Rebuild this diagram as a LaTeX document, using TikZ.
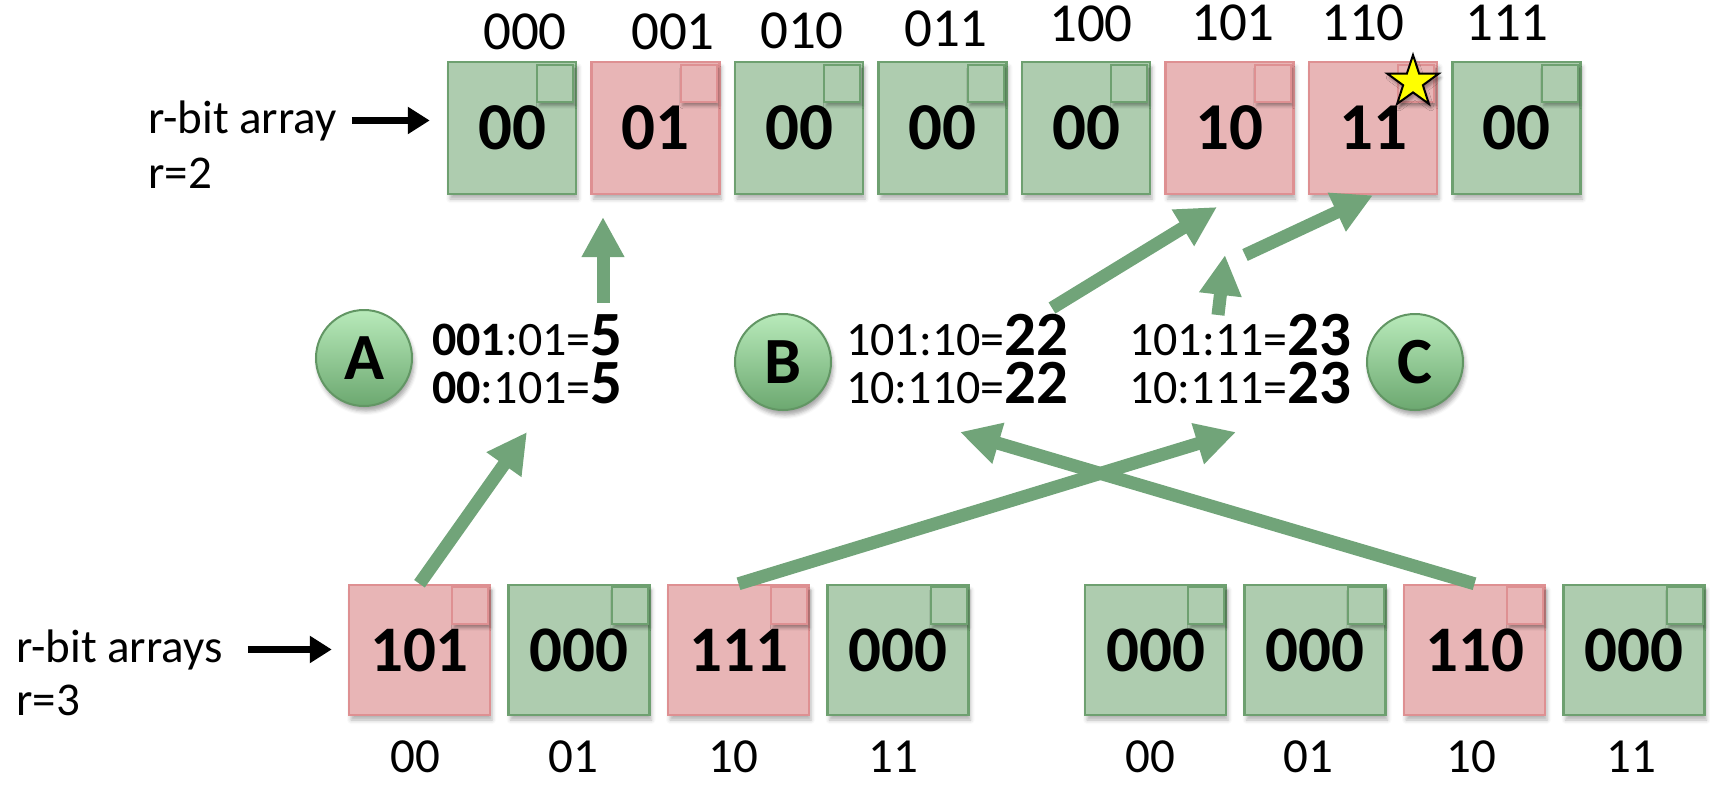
\documentclass[tikz,border=0pt]{standalone}
\usepackage{fontspec}
\setmainfont{Carlito}
\usetikzlibrary{arrows.meta,shapes.geometric,shadows.blur}

\definecolor{okfill}{RGB}{174,204,175}
\definecolor{okline}{RGB}{110,160,112}
\definecolor{hitfill}{RGB}{232,181,182}
\definecolor{hitline}{RGB}{222,144,146}
\definecolor{linkgreen}{RGB}{113,164,121}
\definecolor{balltop}{RGB}{184,234,186}
\definecolor{ballbottom}{RGB}{108,168,112}
\definecolor{ballline}{RGB}{98,150,100}
\definecolor{staryellow}{RGB}{255,255,0}

\newcommand\bignum[1]{{\fontsize{63}{63}\selectfont\bfseries #1}}

\tikzset{
  cell/.style={fill=#1fill, draw=#1line, line width=2.5pt, inner sep=0pt,
    blur shadow={shadow xshift=2pt, shadow yshift=-5pt, shadow blur radius=4pt, shadow opacity=30}},
  topcell/.style={cell=#1, minimum width=128pt, minimum height=132pt,
    font=\fontsize{67}{67}\selectfont\bfseries},
  botcell/.style={cell=#1, minimum width=141pt, minimum height=130pt,
    font=\fontsize{65}{65}\selectfont\bfseries},
  flag/.style={fill=#1fill, draw=#1line, line width=2pt, inner sep=0pt,
    minimum width=36pt, minimum height=37pt, anchor=north east,
    blur shadow={shadow xshift=2pt, shadow yshift=-4pt, shadow blur radius=3pt, shadow opacity=35}},
  idx/.style={inner sep=0pt, font=\fontsize{55}{55}\selectfont},
  botidx/.style={inner sep=0pt, font=\fontsize{49}{49}\selectfont},
  caption/.style={inner sep=0pt, anchor=base west, font=\fontsize{47}{47}\selectfont},
  eqline/.style={inner sep=0pt, anchor=base west, font=\fontsize{48}{48}\selectfont},
  ball/.style={circle, minimum size=96pt, inner sep=0pt, draw=ballline, line width=2pt,
    top color=balltop, bottom color=ballbottom,
    font=\fontsize{66}{66}\selectfont\bfseries,
    blur shadow={shadow xshift=2pt, shadow yshift=-5pt, shadow blur radius=4pt, shadow opacity=35}},
  link/.style={draw=linkgreen, line width=13pt, -{Triangle[length=40pt,width=40pt]}},
  pointer/.style={draw=black, line width=7pt, -{Triangle[length=22pt,width=26pt]}},
}

\begin{document}
\begin{tikzpicture}[x=1pt,y=-1pt]
\useasboundingbox (0,0) rectangle (1710,785);

% upper array, r=2
\foreach \i/\v/\kind in {0/00/ok,1/01/hit,2/00/ok,3/00/ok,4/00/ok,5/10/hit,6/11/hit,7/00/ok}{
  \node[topcell=\kind] (t\i) at ({512+143.5*\i},128) {\v};
  \node[flag=\kind] (tf\i) at ([xshift=-3pt,yshift=-3pt]t\i.north east) {};
}

% addresses of the upper array
\node[idx] (tl0) at (525,32) {000};
\node[idx] (tl1) at (673,32) {001};
\node[idx] (tl2) at (802,31) {010};
\node[idx] (tl3) at (946,29) {011};
\node[idx] (tl4) at (1091,24) {100};
\node[idx] (tl5) at (1233,23) {101};
\node[idx] (tl6) at (1363,23) {110};
\node[idx] (tl7) at (1507,23) {111};

% lower arrays, r=3
\foreach \i/\x/\v/\kind in {0/419.5/101/hit,1/579/000/ok,2/738.5/111/hit,3/898/000/ok,
                            4/1155.5/000/ok,5/1315/000/ok,6/1474.5/110/hit,7/1634/000/ok}{
  \node[botcell=\kind] (b\i) at (\x,650) {\v};
  \node[flag=\kind] (bf\i) at ([xshift=-2pt,yshift=-2pt]b\i.north east) {};
}

% addresses of the lower arrays
\node[botidx] (bl0) at (415,757) {00};
\node[botidx] (bl1) at (573,757) {01};
\node[botidx] (bl2) at (733,757) {10};
\node[botidx] (bl3) at (893,757) {11};
\node[botidx] (bl4) at (1150,757) {00};
\node[botidx] (bl5) at (1308,757) {01};
\node[botidx] (bl6) at (1471,757) {10};
\node[botidx] (bl7) at (1631,757) {11};

% captions and their pointers
\node[caption] (captop) at (148,133) {r-bit array};
\node[caption] (captopr) at (148,188) {r=2};
\node[caption] (capbot) at (16,662) {r-bit arrays};
\node[caption] (capbotr) at (16,715) {r=3};
\draw[pointer, shorten <=15pt, shorten >=17pt] (captop.east) -- (captop.east -| t0.west);
\draw[pointer, shorten <=25pt, shorten >=16pt] (capbot.east) -- (capbot.east -| b0.west);

% marked slot
\node[star, star points=5, star point ratio=2.6, minimum size=54pt, inner sep=0pt,
      fill=staryellow, draw=black, line width=2pt,
      blur shadow={shadow xshift=2pt, shadow yshift=-4pt, shadow blur radius=3pt, shadow opacity=35}]
      (mark) at (1413,82) {};

% the three cases
\node[ball] (cA) at (364,358) {A};
\node[ball] (cB) at (783,362) {B};
\node[ball] (cC) at (1415,362) {C};

\node[eqline] (eqA1) at (432,355) {{\bfseries 001}:01=\bignum{5}};
\node[eqline] (eqA2) at (432,403) {{\bfseries 00}:101=\bignum{5}};
\node[eqline] (eqB1) at (846,355) {101:10=\bignum{22}};
\node[eqline] (eqB2) at (846,403) {10:110=\bignum{22}};
\node[eqline] (eqC1) at (1129,355) {101:11=\bignum{23}};
\node[eqline] (eqC2) at (1129,403) {10:111=\bignum{23}};

% connector end points
\coordinate (tipA) at (527,432);
\coordinate (upAtail) at (603,303);
\coordinate (upAtip) at (603,217);
\coordinate (upBtail) at (1052,308);
\coordinate (upBtip) at (1217,207);
\coordinate (upCtail) at (1218,315);
\coordinate (upCtip) at (1225,255);
\coordinate (diagCtail) at (1245,255);
\coordinate (tipB) at (960,432);
\coordinate (tipC) at (1236,432);

% connectors
\draw[link] (b0.north) -- (tipA);
\draw[link] (upAtail) -- (upAtip);
\draw[link] (upBtail) -- (upBtip);
\draw[link] (upCtail) -- (upCtip);
\draw[link] (diagCtail) -- (t6.south);
\draw[link] (b2.north) -- (tipC);
\draw[link] (b6.north) -- (tipB);
\end{tikzpicture}
\end{document}
